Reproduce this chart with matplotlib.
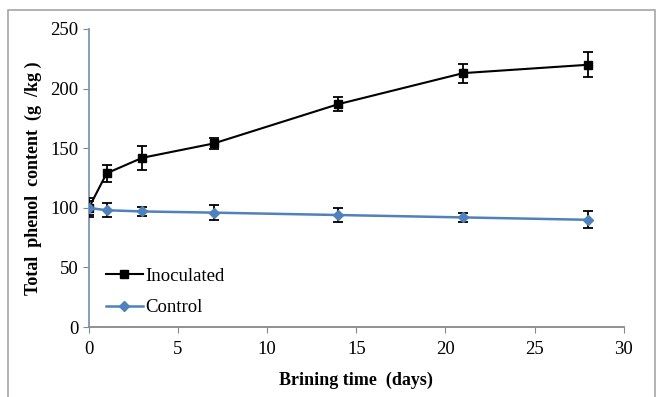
import matplotlib
matplotlib.use("Agg")
import matplotlib.pyplot as plt
from matplotlib.lines import Line2D
from matplotlib.patches import Rectangle

# Data
days = [0, 1, 3, 7, 14, 21, 28]
inoculated = [100, 129, 142, 154, 187, 213, 220]
inoculated_err = [8, 7, 10, 5, 6, 8, 10.5]
control = [100, 98, 97, 96, 94, 92, 90]
control_err = [6, 6, 4, 6, 6, 4, 7]

x_ticks = [0, 5, 10, 15, 20, 25, 30]
y_ticks = [0, 50, 100, 150, 200, 250]

plt.rcParams["font.family"] = ["Liberation Serif", "DejaVu Serif"]

fig = plt.figure(figsize=(6.58, 3.97), dpi=100)
ax = fig.add_axes([0.135, 0.176, 0.813, 0.751])

# Outer gray frame around the figure
fig.patches.append(Rectangle((8 / 658, -0.05), 647 / 658, 1.05 - 10 / 397,
                             transform=fig.transFigure, fill=False,
                             edgecolor="#a6a6a6", linewidth=1.2))

black = "black"
blue = "#4f81bd"

ax.errorbar(days, inoculated, yerr=inoculated_err, color=black,
            marker="s", markersize=6, linewidth=1.5, capsize=3.5,
            elinewidth=1.3, capthick=1.3, ecolor=black, zorder=3)
ax.errorbar(days, control, yerr=control_err, color=blue,
            marker="D", markersize=5.5, linewidth=1.8, capsize=3.5,
            elinewidth=1.3, capthick=1.3, ecolor=black, zorder=4)

ax.set_xlim(0, 30)
ax.set_ylim(0, 250)
ax.set_xticks(x_ticks)
ax.set_yticks(y_ticks)
ax.tick_params(labelsize=13.5, direction="out", length=4, color="#888888")
ax.tick_params(axis="x", pad=6)

for side in ["top", "right"]:
    ax.spines[side].set_visible(False)
ax.spines["left"].set_color("#7f95b5")
ax.spines["bottom"].set_color("#888888")
ax.spines["left"].set_linewidth(1.3)
ax.spines["bottom"].set_linewidth(1.3)

ax.set_xlabel("Brining time  (days)", fontsize=13, fontweight="bold",
              labelpad=10)
ax.set_ylabel("Total  phenol  content  (g  /kg )", fontsize=13,
              fontweight="bold", labelpad=6)

handles = [Line2D([], [], color=black, marker="s", markersize=6,
                  linewidth=1.5),
           Line2D([], [], color=blue, marker="D", markersize=5.5,
                  linewidth=1.8)]
ax.legend(handles, ["Inoculated", "Control"], loc="lower left",
          bbox_to_anchor=(0.0, -0.02), frameon=False, fontsize=13.5,
          handlelength=2.0, handletextpad=0.1, labelspacing=0.75)

fig.savefig("out.png", dpi=100)
